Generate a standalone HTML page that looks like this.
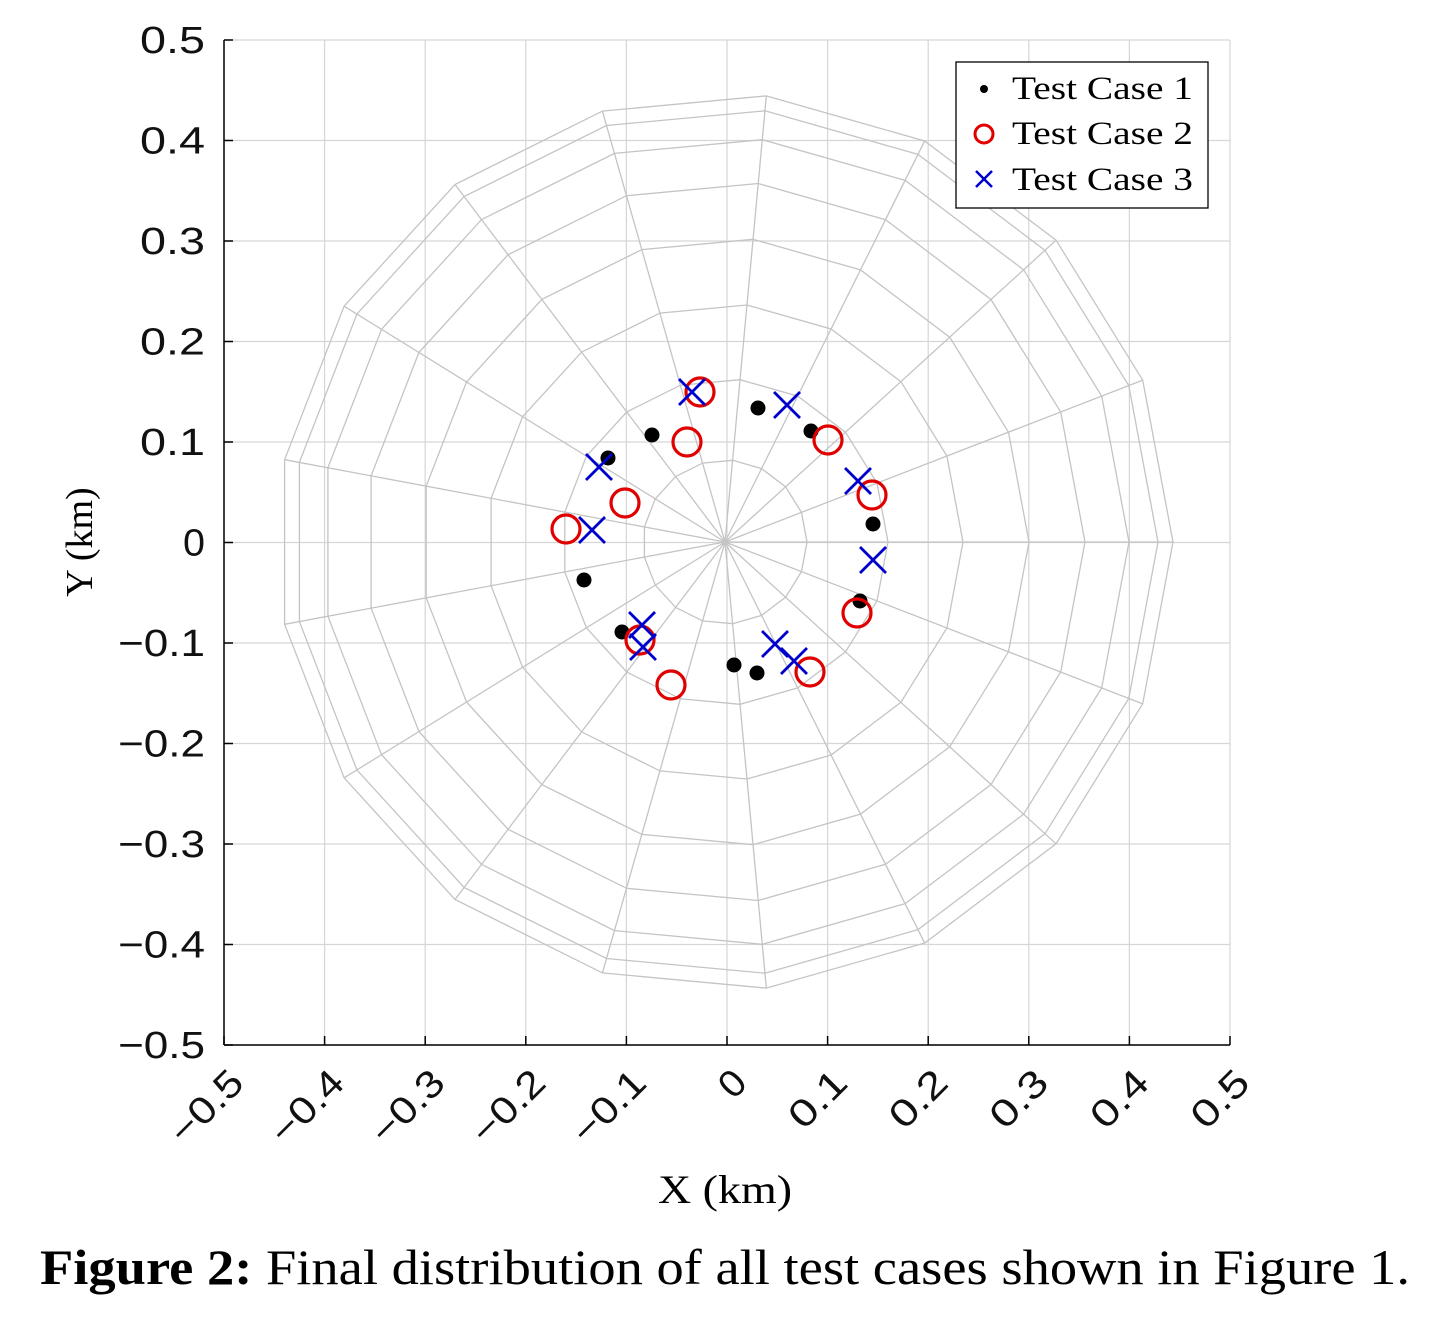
<!DOCTYPE html>
<html><head><meta charset="utf-8"><style>
html,body{margin:0;padding:0;background:#fff;}
svg{display:block;}
</style></head><body>
<svg id="s" width="1450" height="1332" viewBox="0 0 1450 1332" xmlns="http://www.w3.org/2000/svg">
<g id="grid" stroke="#d6d6d6" stroke-width="1.2" fill="none"></g>
<g id="web" stroke="#c4c4c4" stroke-width="1.3" fill="none"></g>
<g stroke="#000" stroke-width="1.5">
<line x1="224" y1="40" x2="224" y2="1045"/><line x1="224" y1="1045" x2="1230" y2="1045"/>
</g>
<g id="ticks" stroke="#000" stroke-width="1.5"></g>
<g id="ylab" font-family="Liberation Sans, sans-serif" font-size="38" text-anchor="end" fill="#111"></g>
<g id="xlab" font-family="Liberation Sans, sans-serif" font-size="38" text-anchor="end" fill="#111"></g>
<g id="data"></g>
<text x="725" y="1203" font-family="Liberation Serif, serif" font-size="40" text-anchor="middle" textLength="134" lengthAdjust="spacingAndGlyphs">X (km)</text>
<text transform="translate(92,542) rotate(-90)" font-family="Liberation Serif, serif" font-size="38" text-anchor="middle">Y (km)</text>
<rect x="956" y="62" width="252" height="146" fill="#fff" stroke="#000" stroke-width="1.3"/>
<circle cx="984" cy="89" r="4" fill="#000"/>
<circle cx="984" cy="134" r="9" fill="none" stroke="#e00000" stroke-width="3"/>
<path d="M976 171l16 16M992 171l-16 16" stroke="#0000cc" stroke-width="2.5"/>
<g font-family="Liberation Serif, serif" font-size="33" fill="#000">
<text x="1012" y="99" textLength="181" lengthAdjust="spacingAndGlyphs">Test Case 1</text>
<text x="1012" y="144" textLength="181" lengthAdjust="spacingAndGlyphs">Test Case 2</text>
<text x="1012" y="190" textLength="181" lengthAdjust="spacingAndGlyphs">Test Case 3</text>
</g>
<text x="40" y="1284" font-family="Liberation Serif, serif" font-size="50" textLength="1370" lengthAdjust="spacingAndGlyphs"><tspan font-weight="bold">Figure 2:</tspan> Final distribution of all test cases shown in Figure 1.</text>
</svg>
<script>
var NS="http://www.w3.org/2000/svg";
function el(p,t,a){var e=document.createElementNS(NS,t);for(var k in a)e.setAttribute(k,a[k]);document.getElementById(p).appendChild(e);return e;}
var x0=224,x1=1230,y0=1045,y1=40;
for(var i=0;i<=10;i++){
 var x=x0+(x1-x0)*i/10, y=y0+(y1-y0)*i/10;
 el("grid","line",{x1:x,y1:y1,x2:x,y2:y0});
 el("grid","line",{x1:x0,y1:y,x2:x1,y2:y});
 el("ticks","line",{x1:x,y1:y0,x2:x,y2:y0-9});
 el("ticks","line",{x1:x0,y1:y,x2:x0+9,y2:y});
 var v=(-0.5+i*0.1); var z=Math.abs(v)<1e-9; var s=z?"0":(v<0?"\u2212":"")+Math.abs(v).toFixed(1);
 var L=z?22:(v<0?87:65);
 var t=el("ylab","text",{x:205,y:y+13,textLength:L,lengthAdjust:"spacingAndGlyphs"});t.textContent=s;
 var t2=el("xlab","text",{transform:"translate("+(x+22)+","+(y0+40)+") rotate(-45)",textLength:L,lengthAdjust:"spacingAndGlyphs"});t2.textContent=s;
}
var cx=725,cy=542,N=17,radii=[82,163,238,304,360,404,433,448];
for(var k=0;k<N;k++){var a=2*Math.PI*k/N;el("web","line",{x1:cx,y1:cy,x2:cx+448*Math.cos(a),y2:cy-448*Math.sin(a)});}
radii.forEach(function(r){var p=[];for(var k=0;k<N;k++){var a=2*Math.PI*k/N;p.push((cx+r*Math.cos(a)).toFixed(1)+","+(cy-r*Math.sin(a)).toFixed(1));}el("web","polygon",{points:p.join(" ")});});
var blk=[[758,408],[652,435],[811,431],[608,458],[873,524],[584,580],[860,601],[622,632],[734,665],[757,673]];
var red=[[700,392],[687,442],[828,440],[872,495],[625,503],[566,529],[857,613],[640,640],[671,685],[810,672]];
var blu=[[692,392],[787,405],[858,481],[599,467],[592,530],[873,560],[642,625],[643,647],[775,644],[794,661]];
blk.forEach(function(p){el("data","circle",{cx:p[0],cy:p[1],r:7.5,fill:"#000"});});
red.forEach(function(p){el("data","circle",{cx:p[0],cy:p[1],r:14,fill:"none",stroke:"#e00000","stroke-width":3.2});});
blu.forEach(function(p){var d=13;el("data","path",{d:"M"+(p[0]-d)+" "+(p[1]-d)+"l"+2*d+" "+2*d+"M"+(p[0]+d)+" "+(p[1]-d)+"l"+(-2*d)+" "+2*d,stroke:"#0000cc","stroke-width":2.8});});
</script>
</body></html>
